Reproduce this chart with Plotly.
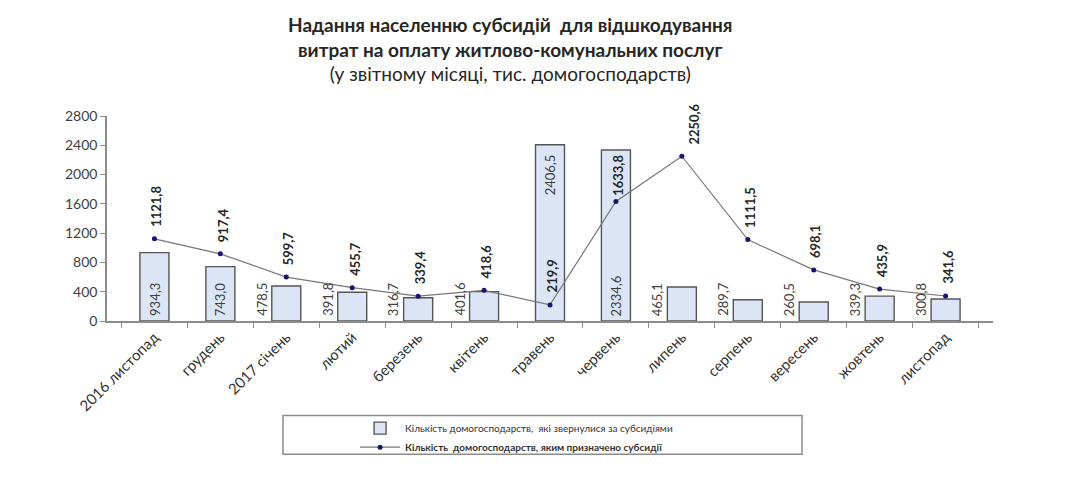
import plotly.graph_objects as go

# months (Nov 2016 - Nov 2017)
months = ['2016 листопад', 'грудень', '2017 січень', 'лютий', 'березень', 'квітень',
          'травень', 'червень', 'липень', 'серпень', 'вересень', 'жовтень', 'листопад']

# households that applied for subsidies, thousands
applied = [934.3, 743.0, 478.5, 391.8, 316.7, 401.6, 2406.5, 2334.6, 465.1, 289.7, 260.5, 339.3, 300.8]

# households granted subsidies, thousands
granted = [1121.8, 917.4, 599.7, 455.7, 339.4, 418.6, 219.9, 1633.8, 2250.6, 1111.5, 698.1, 435.9, 341.6]

y_ticks = [0, 400, 800, 1200, 1600, 2000, 2400, 2800]

FONT = 'Lato'

# plot area in pixels of the figure (page has an 8px body margin)
L, T, PW, PH = 99, 108, 886, 206


def fmt(v):
    return ('%.1f' % v).replace('.', ',')


fig = go.Figure()

fig.add_trace(go.Bar(
    x=months, y=applied,
    name='Кількість домогосподарств,  які звернулися за субсидіями',
    marker=dict(color='#dbe5f5', line=dict(color='#555555', width=1.4)),
))

fig.add_trace(go.Scatter(
    x=months, y=granted, mode='lines+markers',
    name='<b>Кількість  домогосподарств, яким призначено субсидії</b>',
    line=dict(color='#777777', width=1.2),
    marker=dict(color='#1c1270', size=5),
))

annotations = []

# title
annotations.append(dict(
    xref='paper', yref='paper', x=(502 - L) / PW, y=1 + (T - 2) / PH,
    xanchor='center', yanchor='top', showarrow=False, align='center',
    text='<b>Надання населенню субсидій  для відшкодування<br>'
         'витрат на оплату житлово-комунальних послуг</b><br>'
         '(у звітному місяці, тис. домогосподарств)',
    font=dict(family=FONT, size=19, color='#262626'),
))

# bar labels: inside for tall bars, to the left for the short ones
for i, (m, v) in enumerate(zip(months, applied)):
    if i == 6:
        annotations.append(dict(x=m, y=v, text=fmt(v), textangle=-90, showarrow=False,
                                xanchor='center', yanchor='top', yshift=-8,
                                font=dict(family=FONT, size=13, color='#404040')))
    else:
        inside = v > 700
        annotations.append(dict(x=m, y=0, text=fmt(v), textangle=-90, showarrow=False,
                                xanchor='center', yanchor='bottom', yshift=3,
                                xshift=0 if inside else -25,
                                font=dict(family=FONT, size=13, color='#404040')))

# line labels above the points
for i, (m, v) in enumerate(zip(months, granted)):
    xs = 12 if i == 8 else 2
    ys = 4 if i == 7 else 10
    annotations.append(dict(x=m, y=v, text='<b>' + fmt(v) + '</b>', textangle=-90, showarrow=False,
                            xanchor='center', yanchor='bottom', yshift=ys, xshift=xs,
                            font=dict(family=FONT, size=13, color='#262626')))

fig.update_layout(
    width=1051, height=464,
    margin=dict(l=L, r=1051 - L - PW, t=T, b=464 - T - PH),
    paper_bgcolor='white', plot_bgcolor='white',
    font=dict(family=FONT, size=12, color='#404040'),
    bargap=0.56,
    showlegend=True,
    legend=dict(x=0.28, y=-0.445, xanchor='left', yanchor='top',
                font=dict(family=FONT, size=10, color='#333333'),
                bgcolor='rgba(0,0,0,0)', tracegroupgap=0, itemwidth=40),
    annotations=annotations,
    shapes=[dict(type='rect', xref='paper', yref='paper',
                 x0=(283 - 107) / PW, x1=(802 - 107) / PW,
                 y0=-(456 - 322) / PH, y1=-(417 - 322) / PH,
                 line=dict(color='#8c8c8c', width=1.5))],
)

fig.update_xaxes(
    showline=True, linecolor='#8c8c8c', linewidth=1.5,
    ticks='outside', ticklen=5, tickcolor='#8c8c8c', tickson='boundaries',
    tickangle=-45, tickfont=dict(family=FONT, size=15, color='#333333'),
    showgrid=False,
)

fig.update_yaxes(
    range=[0, 2800], tickvals=y_ticks,
    showline=True, linecolor='#8c8c8c', linewidth=1.5,
    ticks='outside', ticklen=5, tickcolor='#8c8c8c',
    tickfont=dict(family=FONT, size=14, color='#404040'),
    showgrid=False, zeroline=False,
)

fig.write_html('out.html')
